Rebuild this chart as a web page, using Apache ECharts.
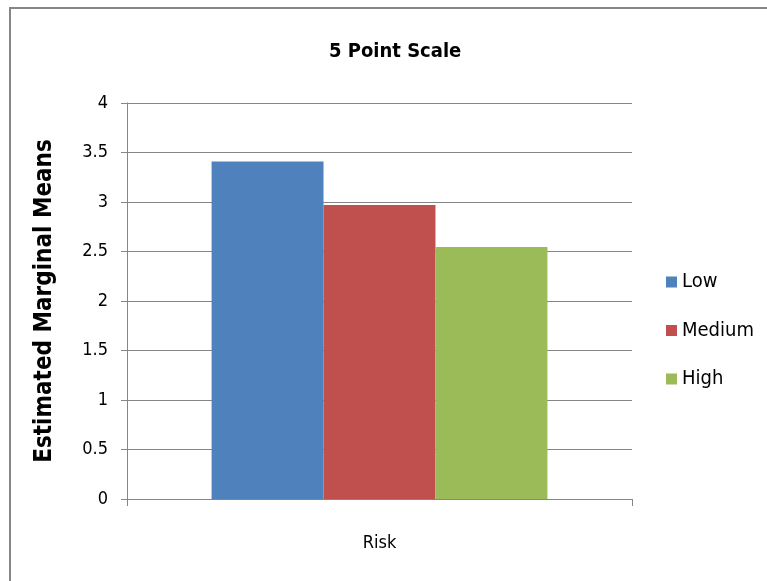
<!DOCTYPE html>
<html lang="en">

<head>
  <meta charset="UTF-8">
  <title>5 Point Scale</title>
  <script src="https://cdn.jsdelivr.net/npm/echarts@6/dist/echarts.min.js"></script>
  <style>
    body { margin: 0; background: #fff; }
  </style>
</head>

<body>
  <div id="main" style="width: 767px; height: 581px;"></div>
  <script>
    // data
    var categories = ['Risk']
    var seriesNames = ['Low', 'Medium', 'High']
    var lowData = [3.41]
    var mediumData = [2.97]
    var highData = [2.545]
    var yTicks = [0, 0.5, 1, 1.5, 2, 2.5, 3, 3.5, 4]

    var colors = ['#4f81bd', '#c0504d', '#9bbb59']
    var font = '"DejaVu Sans Condensed", "Liberation Sans Narrow", sans-serif'
    var gray = '#868686'

    var myChart = echarts.init(document.getElementById('main'))
    var option = {
      animation: false,
      color: colors,
      title: {
        text: '5 Point Scale',
        left: 324,
        top: 37,
        textStyle: { fontFamily: font, fontSize: 20, fontWeight: 'bold', color: '#000' }
      },
      // outer frame, only left and top edges fall in the window
      graphic: [{
        type: 'rect',
        shape: { x: 10, y: 8, width: 800, height: 600 },
        style: { fill: 'none', stroke: gray, lineWidth: 2 }
      }],
      legend: {
        orient: 'vertical',
        left: 666,
        top: 272,
        padding: 0,
        itemWidth: 11,
        itemHeight: 11,
        itemGap: 28.5,
        icon: 'rect',
        data: seriesNames,
        textStyle: { fontFamily: font, fontSize: 20, color: '#000' }
      },
      grid: { left: 127, right: 135, top: 103, bottom: 82 },
      xAxis: {
        type: 'category',
        data: categories,
        axisLine: { lineStyle: { color: gray } },
        axisTick: { show: true, length: 7, lineStyle: { color: gray } },
        axisLabel: { fontFamily: font, fontSize: 18, color: '#000', margin: 35 }
      },
      yAxis: {
        type: 'value',
        min: yTicks[0],
        max: yTicks[yTicks.length - 1],
        interval: 0.5,
        name: 'Estimated Marginal Means',
        nameLocation: 'middle',
        nameGap: 70,
        nameTextStyle: { fontFamily: font, fontSize: 24, fontWeight: 'bold', color: '#000' },
        axisLine: { show: true, lineStyle: { color: gray } },
        axisTick: { show: true, length: 6, lineStyle: { color: gray } },
        axisLabel: { fontFamily: font, fontSize: 18, color: '#000', margin: 19 },
        splitLine: { lineStyle: { color: gray } }
      },
      series: [
        { name: seriesNames[0], type: 'bar', data: lowData, barGap: '0%', barCategoryGap: '33.5%' },
        { name: seriesNames[1], type: 'bar', data: mediumData },
        { name: seriesNames[2], type: 'bar', data: highData }
      ]
    }
    myChart.setOption(option)
  </script>
</body>

</html>
